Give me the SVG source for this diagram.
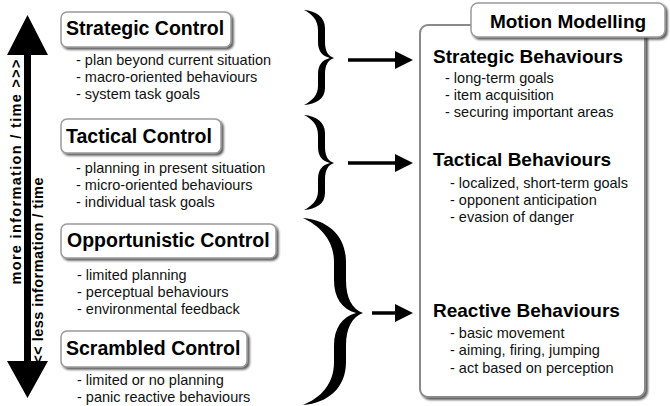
<svg xmlns="http://www.w3.org/2000/svg" width="670" height="406" viewBox="0 0 670 406">
<style>
.box{fill:#fff;stroke:#9a9a9a;stroke-width:1.5;filter:url(#sh)}
.title{font-family:"Liberation Sans",Arial,sans-serif;font-weight:bold;font-size:19.5px;fill:#000}
.rtitle{font-family:"Liberation Sans",Arial,sans-serif;font-weight:bold;font-size:19px;fill:#000}
.item{font-family:"Liberation Sans",Arial,sans-serif;font-size:14.5px;fill:#111}
.vt{font-family:"Liberation Sans",Arial,sans-serif;font-weight:bold;font-size:14.5px;fill:#000}
.brace{fill:#000}
.conn{stroke:#000;stroke-width:3.5;fill:none;marker-end:url(#ah)}
</style>
<defs>
<filter id="sh" x="-10%" y="-10%" width="125%" height="140%">
<feDropShadow dx="2" dy="2" stdDeviation="1.2" flood-color="#222" flood-opacity="0.75"/>
</filter>
<marker id="ah" markerUnits="userSpaceOnUse" markerWidth="20" markerHeight="20" refX="5" refY="9" orient="auto">
<path d="M0,0 L18,9 L0,18 Z" fill="#000"/>
</marker>
</defs>

<g id="axis">
<path d="M27.5,15 L48,55 L31,55 L31,361 L48,361 L27.5,398 L7,361 L24,361 L24,55 L7,55 Z" fill="#000"/>
<text class="vt" transform="translate(21,172) rotate(-90)" text-anchor="middle" textLength="225" lengthAdjust="spacing">more information / time &gt;&gt;&gt;</text>
<text class="vt" transform="translate(43,275) rotate(-90)" text-anchor="middle" textLength="195" lengthAdjust="spacing">&lt;&lt;&lt; less information / time</text>
</g>

<g id="strategic-control">
<rect class="box" x="61" y="12" width="170" height="35" rx="6"/>
<text class="title" x="66" y="35">Strategic Control</text>
<text class="item" x="76" y="65">- plan beyond current situation</text>
<text class="item" x="76" y="82">- macro-oriented behaviours</text>
<text class="item" x="76" y="99">- system task goals</text>
</g>

<g id="tactical-control">
<rect class="box" x="61" y="119" width="160" height="34" rx="6"/>
<text class="title" x="66" y="143">Tactical Control</text>
<text class="item" x="76" y="173">- planning in present situation</text>
<text class="item" x="76" y="190">- micro-oriented behaviours</text>
<text class="item" x="76" y="207">- individual task goals</text>
</g>

<g id="opportunistic-control">
<rect class="box" x="61" y="224" width="215" height="34" rx="6"/>
<text class="title" x="67" y="247">Opportunistic Control</text>
<text class="item" x="77" y="280">- limited planning</text>
<text class="item" x="77" y="297">- perceptual behaviours</text>
<text class="item" x="77" y="314">- environmental feedback</text>
</g>

<g id="scrambled-control">
<rect class="box" x="61" y="331" width="186" height="36" rx="6"/>
<text class="title" x="66" y="355">Scrambled Control</text>
<text class="item" x="77" y="385">- limited or no planning</text>
<text class="item" x="77" y="402">- panic reactive behaviours</text>
</g>

<g id="braces">
<path class="brace" d="M304,10 C316,11 325,17 325,28 L325,42 C325,51 328,56 334,58 C328,60 325,65 325,74 L325,88 C325,99 316,104 304,105 C312,101 318,95 318,86 L318,74 C318,65 322,60 330,58 C322,56 318,51 318,42 L318,30 C318,20 312,14 304,10 Z"/>
<path class="brace" transform="translate(0,105)" d="M304,10 C316,11 325,17 325,28 L325,42 C325,51 328,56 334,58 C328,60 325,65 325,74 L325,88 C325,99 316,104 304,105 C312,101 318,95 318,86 L318,74 C318,65 322,60 330,58 C322,56 318,51 318,42 L318,30 C318,20 312,14 304,10 Z"/>
<path class="brace" d="M303,218 C328,220 346,236 346,262 L346,280 C346,298 352,309 363,313 C352,317 346,328 346,346 L346,362 C346,388 328,403 303,405 C320,398 334,385 334,362 L334,346 C334,328 342,317 356,313 C342,309 334,298 334,280 L334,262 C334,240 320,226 303,218 Z"/>
</g>

<g id="connectors">
<line class="conn" x1="348" y1="60" x2="400" y2="60"/>
<line class="conn" x1="348" y1="163" x2="400" y2="163"/>
<line class="conn" x1="372" y1="313" x2="400" y2="313"/>
</g>

<g id="motion-modelling">
<rect class="box" x="420" y="25" width="225" height="372" rx="8" style="stroke:#8a8a8a;stroke-width:2"/>
<rect class="box" x="471" y="3" width="194" height="34" rx="7"/>
<text class="rtitle" x="568" y="28" text-anchor="middle">Motion Modelling</text>
</g>

<g id="strategic-behaviours">
<text class="rtitle" x="433" y="63">Strategic Behaviours</text>
<text class="item" x="445" y="83">- long-term goals</text>
<text class="item" x="445" y="100">- item acquisition</text>
<text class="item" x="445" y="117">- securing important areas</text>
</g>

<g id="tactical-behaviours">
<text class="rtitle" x="433" y="166">Tactical Behaviours</text>
<text class="item" x="450" y="188">- localized, short-term goals</text>
<text class="item" x="450" y="205">- opponent anticipation</text>
<text class="item" x="450" y="222">- evasion of danger</text>
</g>

<g id="reactive-behaviours">
<text class="rtitle" x="433" y="317">Reactive Behaviours</text>
<text class="item" x="450" y="338">- basic movement</text>
<text class="item" x="450" y="355">- aiming, firing, jumping</text>
<text class="item" x="450" y="373">- act based on perception</text>
</g>
</svg>
